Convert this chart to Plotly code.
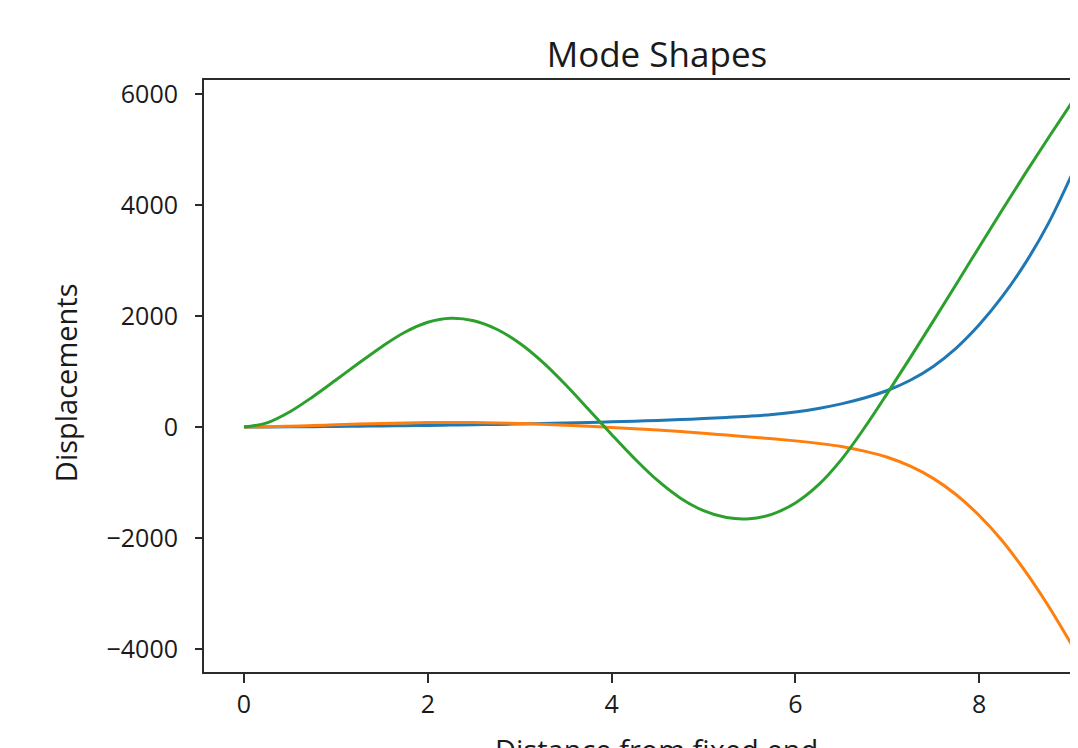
import plotly.graph_objects as go

# Distance from fixed end (sample positions)
x_vals = [0, 0.25, 0.5, 0.75, 1.0, 1.25, 1.5, 1.75, 2.0, 2.25, 2.5, 2.75, 3.0, 3.25,
          3.5, 3.75, 4.0, 4.25, 4.5, 4.75, 5.0, 5.25, 5.5, 5.75, 6.0, 6.25, 6.5, 6.75,
          7.0, 7.25, 7.5, 7.75, 8.0, 8.25, 8.5, 8.75, 9.0]

mode1 = [0, 1, 3, 6, 10, 14, 18, 23, 28, 34, 40, 47, 55, 63,
         72, 82, 93, 105, 118, 134, 152, 172, 195, 225, 270, 335, 417, 522,
         658, 842, 1092, 1423, 1842, 2348, 2948, 3660, 4522]

mode2 = [0, 5, 15, 27, 40, 53, 65, 74, 80, 82, 80, 74, 64, 50,
         33, 14, -7, -30, -55, -82, -112, -145, -178, -212, -250, -295, -350, -435,
         -545, -705, -925, -1220, -1595, -2050, -2595, -3215, -3905]

mode3 = [0, 75, 275, 547, 847, 1152, 1448, 1707, 1888, 1959, 1914, 1761, 1509, 1169,
         761, 316, -134, -569, -963, -1282, -1507, -1632, -1654, -1569, -1368, -1043, -587, -18,
         607, 1251, 1907, 2573, 3244, 3911, 4565, 5202, 5827]

series = [("Mode 1", mode1, "#1f77b4"),
          ("Mode 2", mode2, "#ff7f0e"),
          ("Mode 3", mode3, "#2ca02c")]

title_text = "Mode Shapes"
x_title = "Distance from fixed end"
y_title = "Displacements"
x_ticks = [0, 2, 4, 6, 8]
y_ticks = [-4000, -2000, 0, 2000, 4000, 6000]

FONT = "Open Sans"
TXT = "#1a1a1a"
AXC = "#2b2b2b"

fig = go.Figure()
for name, ys, col in series:
    fig.add_trace(go.Scatter(x=x_vals, y=ys, mode="lines", name=name,
                             line=dict(color=col, width=3, shape="spline", smoothing=1.0)))

# page body adds an 8px offset, so the figure is 8px smaller than the window
fig.update_layout(
    width=1070, height=740,
    margin=dict(l=196, r=0, t=72, b=76),
    paper_bgcolor="white", plot_bgcolor="white",
    showlegend=False,
    font=dict(family=FONT, size=25, color=TXT),
    title=dict(text=title_text, x=0.6065, xref="container", xanchor="center",
               y=0.9365, yref="container", yanchor="middle",
               font=dict(family=FONT, size=35, color=TXT)),
)

fig.update_xaxes(
    range=[-0.435, 9.075], tickvals=x_ticks, showgrid=False, zeroline=False,
    showline=True, linecolor=AXC, linewidth=2, mirror=True,
    ticks="outside", ticklen=9, tickwidth=2, tickcolor=AXC,
    ticklabelstandoff=0,
    tickfont=dict(family=FONT, size=25, color=TXT),
    automargin=False,
)
fig.update_yaxes(
    range=[-4414, 6252], tickvals=y_ticks, showgrid=False, zeroline=False,
    showline=True, linecolor=AXC, linewidth=2, mirror=False,
    ticks="outside", ticklen=7, tickwidth=2, tickcolor=AXC,
    ticklabelstandoff=12,
    tickfont=dict(family=FONT, size=25, color=TXT),
    automargin=False,
)

# axis titles as annotations so they can sit exactly where the reference has them
fig.add_annotation(text=x_title, xref="paper", yref="paper", x=0.5177, y=0,
                   xanchor="center", yanchor="middle", yshift=-77, showarrow=False,
                   font=dict(family=FONT, size=29, color=TXT))
fig.add_annotation(text=y_title, xref="paper", yref="paper", x=-0.159, y=0.488,
                   xanchor="center", yanchor="middle", textangle=-90, showarrow=False,
                   font=dict(family=FONT, size=29, color=TXT))

fig.write_html("out.html")
